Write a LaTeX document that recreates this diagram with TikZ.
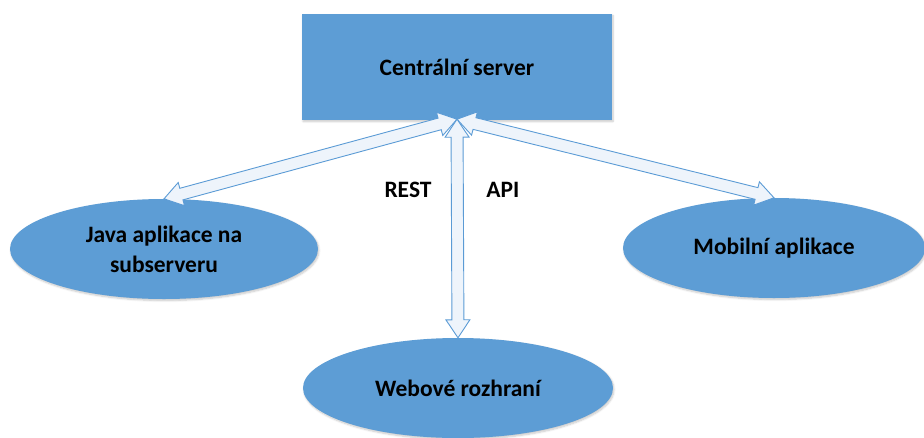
\documentclass[tikz,border=0pt]{standalone}
\usepackage{fontspec}
\setmainfont{Carlito}
\usetikzlibrary{calc,shadows.blur,shapes.geometric}

\definecolor{boxblue}{HTML}{5D9DD5}
\definecolor{arrowfill}{HTML}{EEF4FB}
\definecolor{arrowline}{HTML}{5B9BD5}

\tikzset{
  shapeshade/.style={blur shadow={shadow xshift=1pt, shadow yshift=-1.5pt,
      shadow blur steps=6, shadow opacity=22}},
  serverbox/.style={rectangle, fill=boxblue, draw=none, shapeshade,
      minimum width=310pt, minimum height=106pt, inner sep=0pt},
  clientoval/.style={ellipse, fill=boxblue, draw=none, shapeshade,
      inner sep=0pt, align=center},
  labeltext/.style={font=\fontsize{23.5}{30}\selectfont\bfseries, text=black},
  hollowarrow/.style={draw=arrowline, fill=arrowfill, line width=0.9pt,
      line join=miter},
}

% Two-headed hollow block arrow between two coordinates
\newcommand{\blockarrow}[2]{%
  \coordinate (ha) at (#1);
  \coordinate (hb) at (#2);
  \coordinate (pa) at ($(ha)!18pt!(hb)$);
  \coordinate (pb) at ($(hb)!18pt!(ha)$);
  \draw[hollowarrow] (ha)
    -- ($(pa)!12pt!90:(hb)$) -- ($(pa)!6pt!90:(hb)$)
    -- ($(pb)!6pt!-90:(ha)$) -- ($(pb)!12pt!-90:(ha)$)
    -- (hb)
    -- ($(pb)!12pt!90:(ha)$) -- ($(pb)!6pt!90:(ha)$)
    -- ($(pa)!6pt!-90:(hb)$) -- ($(pa)!12pt!-90:(hb)$)
    -- cycle;
}

\begin{document}
\begin{tikzpicture}[x=1pt, y=-1pt]
  \useasboundingbox (0,0) rectangle (924,437);

  % central server and its clients
  \node[serverbox, labeltext] (srv) at (457,67) {Centrální server};
  \node[clientoval, labeltext, minimum width=308pt, minimum height=100pt]
    (java) at (164,249) {Java aplikace na\\subserveru};
  \node[clientoval, labeltext, minimum width=302pt, minimum height=100pt]
    (mob) at (774,248) {Mobilní aplikace};
  \node[clientoval, labeltext, minimum width=310pt, minimum height=100pt]
    (web) at (458,388) {Webové rozhraní};

  % connectors
  \coordinate (hub) at ($(srv.south)+(0,-1)$);
  \blockarrow{hub}{java.north}
  \blockarrow{hub}{mob.north}
  \blockarrow{hub}{web.north}

  % protocol labels
  \node[labeltext] (rest) at (408,190) {REST};
  \node[labeltext] (api) at (503,190) {API};
\end{tikzpicture}
\end{document}
